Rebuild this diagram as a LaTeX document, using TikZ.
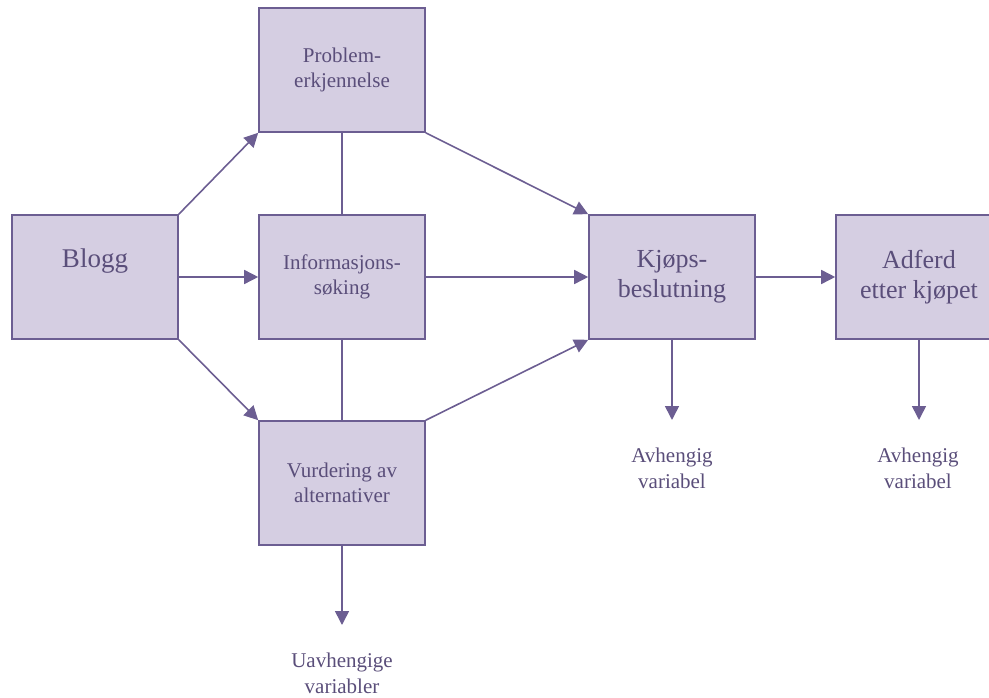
\documentclass[tikz,border=0pt]{standalone}
\usepackage{fontspec}
\setmainfont{Liberation Serif}
\usetikzlibrary{arrows.meta}
\definecolor{boxfill}{RGB}{213,206,226}
\definecolor{edge}{RGB}{108,94,146}
\definecolor{txt}{RGB}{90,78,122}
\begin{document}
\begin{tikzpicture}[x=1pt,y=-1pt,
 box/.style={draw=edge, fill=boxfill, line width=1.6pt, minimum width=166pt, minimum height=124pt, inner sep=0pt, align=center, text=txt},
 small/.style={font=\fontsize{21}{25}\selectfont},
 big/.style={font=\fontsize{26}{30}\selectfont},
 conn/.style={draw=edge, line width=1.6pt},
 arr/.style={conn, -{Triangle[length=14pt,width=14pt]}},
 lbl/.style={text=txt, align=center, font=\fontsize{21}{26}\selectfont, inner sep=0pt}]
\useasboundingbox (0,0) rectangle (989,698);
\clip (0,0) rectangle (989,698);
\node[box,small] (prob) at (342,70) {Problem-\\erkjennelse};
\node[box,font=\fontsize{27}{30}\selectfont,text height=18pt,text depth=36pt] (blogg) at (95,277) {Blogg};
\node[box,small] (info) at (342,277) {Informasjons-\\søking};
\node[box,small] (vurd) at (342,483) {Vurdering av\\alternativer};
\node[box,big] (kjop) at (672,277) {Kjøps-\\beslutning};
\node[box,big] (adf) at (919,277) {Adferd\\etter kjøpet};
\node[lbl] (dep1) at (672,468) {Avhengig\\variabel};
\node[lbl] (dep2) at (918,468) {Avhengig\\variabel};
\node[lbl] (indep) at (342,673) {Uavhengige\\variabler};
\coordinate (k1) at (672,420);
\coordinate (a1) at (919,420);
\coordinate (v1) at (342,625);
\draw[arr] (blogg.north east) -- (prob.south west);
\draw[arr] (blogg.east) -- (info.west);
\draw[arr] (blogg.south east) -- (vurd.north west);
\draw[conn] (prob.south) -- (info.north);
\draw[conn] (info.south) -- (vurd.north);
\draw[arr] (prob.south east) -- (kjop.north west);
\draw[arr] (info.east) -- (kjop.west);
\draw[arr] (vurd.north east) -- (kjop.south west);
\draw[arr] (kjop.east) -- (adf.west);
\draw[arr] (kjop.south) -- (k1);
\draw[arr] (adf.south) -- (a1);
\draw[arr] (vurd.south) -- (v1);
\end{tikzpicture}
\end{document}
